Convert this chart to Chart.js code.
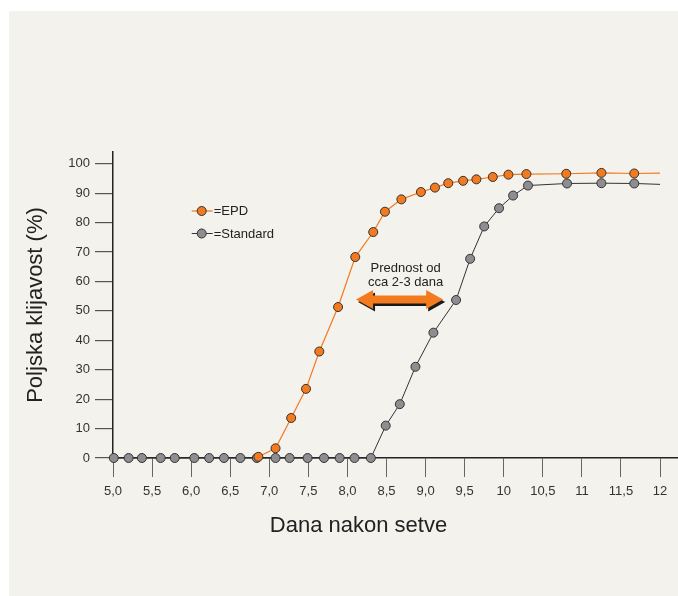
<!DOCTYPE html>
<html>
<head>
<meta charset="utf-8">
<script src="https://cdn.jsdelivr.net/npm/chart.js@4"></script>
<style>
  html, body { margin: 0; padding: 0; background: #ffffff; }
  canvas { display: block; }
</style>
</head>
<body>
<canvas id="klijavostChart" width="678" height="596"></canvas>
<script>
// values
const epdDays = [6.86, 7.08, 7.28, 7.47, 7.64, 7.88, 8.10, 8.33, 8.48, 8.69, 8.94, 9.12, 9.29, 9.48, 9.65, 9.86, 10.06, 10.29, 10.80, 11.25, 11.67, 12.0];
const epdValues = [0.4, 3.3, 13.6, 23.5, 36.2, 51.3, 68.3, 76.8, 83.7, 87.9, 90.4, 91.9, 93.4, 94.2, 94.7, 95.5, 96.3, 96.5, 96.6, 96.9, 96.7, 96.8];

const standardDays = [5.01, 5.20, 5.37, 5.61, 5.79, 6.04, 6.23, 6.42, 6.63, 6.84, 7.08, 7.26, 7.49, 7.70, 7.90, 8.09, 8.30,
  8.49, 8.67, 8.87, 9.10, 9.39, 9.57, 9.75, 9.94, 10.12, 10.31, 10.81, 11.25, 11.67, 12.0];
const standardValues = [0, 0, 0, 0, 0, 0, 0, 0, 0, 0, 0, 0, 0, 0, 0, 0, 0,
  11.0, 18.3, 31.0, 42.6, 53.7, 67.7, 78.7, 84.9, 89.2, 92.6, 93.3, 93.4, 93.3, 93.0];

const xTickValues = [5, 5.5, 6, 6.5, 7, 7.5, 8, 8.5, 9, 9.5, 10, 10.5, 11, 11.5, 12];
const xTickLabels = ['5,0', '5,5', '6,0', '6,5', '7,0', '7,5', '8,0', '8,5', '9,0', '9,5', '10', '10,5', '11', '11,5', '12'];
const yTickValues = [0, 10, 20, 30, 40, 50, 60, 70, 80, 90, 100];

const seriesNames = ['=EPD', '=Standard'];
const xTitle = 'Dana nakon setve';
const yTitle = 'Poljska klijavost (%)';
const noteLines = ['Prednost od', 'cca 2-3 dana'];
const arrowFrom = 8.11, arrowTo = 9.225, arrowLevel = 53.9;

const ORANGE = '#f47a20';
const GREY = '#8e8e90';
const FONT = '"Liberation Sans", Arial, Helvetica, sans-serif';

const toPoints = (xs, ys) => xs.map((x, i) => ({ x: x, y: ys[i] }));
// last point only ends the line, no marker there
const markerRadius = ctx => ctx.dataIndex === ctx.dataset.data.length - 1 ? 0 : 4.5;

const decorPlugin = {
  id: 'decor',
  beforeDraw(chart) {
    const c = chart.ctx;
    c.save();
    c.fillStyle = '#ffffff';
    c.fillRect(0, 0, chart.width, chart.height);
    c.fillStyle = '#f3f2ec';
    c.fillRect(9, 11, chart.width - 9, chart.height - 11);
    c.restore();
  },
  afterDraw(chart) {
    const c = chart.ctx;
    const xs = chart.scales.x, ys = chart.scales.y;
    c.save();

    // x axis title
    c.fillStyle = '#222';
    c.font = '22px ' + FONT;
    c.textAlign = 'center';
    c.textBaseline = 'middle';
    c.fillText(xTitle, 358.5, 526);

    // legend
    c.font = '13px ' + FONT;
    c.textAlign = 'left';
    const lx = xs.getPixelForValue(6.135);
    [0, 1].forEach(i => {
      const ds = chart.data.datasets[i];
      const ly = 211 + i * 22.5;
      c.strokeStyle = ds.borderColor;
      c.lineWidth = ds.borderWidth;
      c.beginPath();
      c.moveTo(lx - 10, ly);
      c.lineTo(lx + 11, ly);
      c.stroke();
      c.beginPath();
      c.arc(lx, ly, 4.5, 0, Math.PI * 2);
      c.fillStyle = ds.pointBackgroundColor;
      c.fill();
      c.lineWidth = 1;
      c.strokeStyle = '#333';
      c.stroke();
      c.fillStyle = '#222';
      c.fillText(seriesNames[i], lx + 12, ly + 0.5);
    });

    // arrow with shadow
    const ax1 = xs.getPixelForValue(arrowFrom);
    const ax2 = xs.getPixelForValue(arrowTo);
    const ay = ys.getPixelForValue(arrowLevel);
    const head = 17, half = 9.5, shaft = 4;
    const arrowPath = (dx, dy) => {
      c.beginPath();
      c.moveTo(ax1 + dx, ay + dy);
      c.lineTo(ax1 + head + dx, ay - half + dy);
      c.lineTo(ax1 + head + dx, ay - shaft + dy);
      c.lineTo(ax2 - head + dx, ay - shaft + dy);
      c.lineTo(ax2 - head + dx, ay - half + dy);
      c.lineTo(ax2 + dx, ay + dy);
      c.lineTo(ax2 - head + dx, ay + half + dy);
      c.lineTo(ax2 - head + dx, ay + shaft + dy);
      c.lineTo(ax1 + head + dx, ay + shaft + dy);
      c.lineTo(ax1 + head + dx, ay + half + dy);
      c.closePath();
    };
    arrowPath(2, 2.5);
    c.fillStyle = '#1a1a1a';
    c.fill();
    arrowPath(0, 0);
    c.fillStyle = ORANGE;
    c.fill();

    // note text
    c.fillStyle = '#222';
    c.font = '13px ' + FONT;
    c.textAlign = 'center';
    const tx = (ax1 + ax2) / 2 + 6;
    c.fillText(noteLines[0], tx, ay - 31);
    c.fillText(noteLines[1], tx, ay - 17);
    c.restore();
  }
};

const ctx = document.getElementById('klijavostChart').getContext('2d');
const klijavostChart = new Chart(ctx, {
  type: 'line',
  data: {
    datasets: [
      {
        label: seriesNames[0],
        data: toPoints(epdDays, epdValues),
        borderColor: ORANGE,
        borderWidth: 1.2,
        pointBackgroundColor: ORANGE,
        pointBorderColor: '#333',
        pointBorderWidth: 1,
        pointRadius: markerRadius,
        tension: 0,
        clip: false
      },
      {
        label: seriesNames[1],
        data: toPoints(standardDays, standardValues),
        borderColor: '#333',
        borderWidth: 1,
        pointBackgroundColor: GREY,
        pointBorderColor: '#333',
        pointBorderWidth: 1,
        pointRadius: markerRadius,
        tension: 0,
        clip: false
      }
    ]
  },
  options: {
    responsive: false,
    animation: false,
    layout: { autoPadding: false, padding: { top: 152, left: 0, right: 0, bottom: 0 } },
    scales: {
      x: {
        type: 'linear',
        min: 5,
        max: 12.23,
        afterBuildTicks: scale => { scale.ticks = xTickValues.map(v => ({ value: v })); },
        afterFit: scale => {
          scale.height = 138;
          scale.paddingLeft = 0;
          scale.paddingRight = 0;
        },
        ticks: {
          callback: (v, i) => xTickLabels[i],
          font: { family: FONT, size: 13 },
          color: '#333',
          padding: 7,
          maxRotation: 0,
          autoSkip: false
        },
        grid: { drawOnChartArea: false, drawTicks: true, tickLength: 19, color: '#666', lineWidth: 1 },
        border: { display: true, color: '#222', width: 1.5 }
      },
      y: {
        min: 0,
        max: 104,
        afterBuildTicks: scale => { scale.ticks = yTickValues.map(v => ({ value: v })); },
        afterFit: scale => { scale.width = 113; },
        ticks: {
          font: { family: FONT, size: 13 },
          color: '#333',
          padding: 5
        },
        grid: { drawOnChartArea: false, drawTicks: true, tickLength: 18, color: '#555', lineWidth: 1.2 },
        border: { display: true, color: '#222', width: 1.5 },
        title: {
          display: true,
          text: yTitle,
          font: { family: FONT, size: 22 },
          color: '#222',
          padding: { top: 23, bottom: 0 }
        }
      }
    },
    plugins: {
      legend: { display: false },
      tooltip: { enabled: false }
    }
  },
  plugins: [decorPlugin]
});
</script>
</body>
</html>
